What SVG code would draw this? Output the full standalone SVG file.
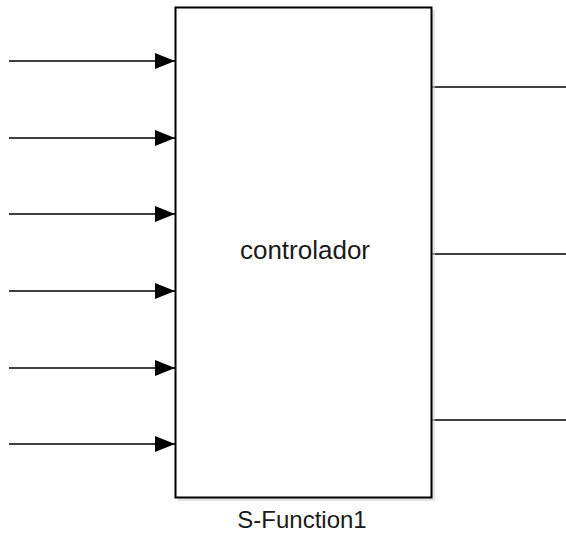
<svg xmlns="http://www.w3.org/2000/svg" width="566" height="533" viewBox="0 0 566 533">
  <style>
    .line { stroke: #000; stroke-width: 1.3; fill: none; }
    .label { font-family: "Liberation Sans", Arial, sans-serif; fill: #1a1a1a; text-anchor: middle; }
  </style>
  <defs>
    <marker id="arrow" markerWidth="20" markerHeight="16" refX="20" refY="8" orient="auto" markerUnits="userSpaceOnUse">
      <path d="M0,0 L20,8 L0,16 Z" fill="#000"/>
    </marker>
  </defs>
  <rect width="566" height="533" fill="#fff"/>
  <g id="connectors">
    <line class="line" x1="9" y1="61" x2="175" y2="61" marker-end="url(#arrow)"/>
    <line class="line" x1="9" y1="138" x2="175" y2="138" marker-end="url(#arrow)"/>
    <line class="line" x1="9" y1="214" x2="175" y2="214" marker-end="url(#arrow)"/>
    <line class="line" x1="9" y1="291" x2="175" y2="291" marker-end="url(#arrow)"/>
    <line class="line" x1="9" y1="368" x2="175" y2="368" marker-end="url(#arrow)"/>
    <line class="line" x1="9" y1="444" x2="175" y2="444" marker-end="url(#arrow)"/>
    <line class="line" x1="432" y1="87" x2="566" y2="87"/>
    <line class="line" x1="432" y1="254" x2="566" y2="254"/>
    <line class="line" x1="432" y1="420" x2="566" y2="420"/>
  </g>
  <g id="sfunction">
    <rect x="178" y="10" width="257" height="491" fill="#d0d0d0" opacity="0.6"/>
    <rect x="175.5" y="7.5" width="256" height="490" fill="#fff" stroke="#000" stroke-width="2"/>
    <text class="label" x="305" y="259" font-size="26">controlador</text>
    <text class="label" x="302" y="528" font-size="24">S-Function1</text>
  </g>
</svg>
